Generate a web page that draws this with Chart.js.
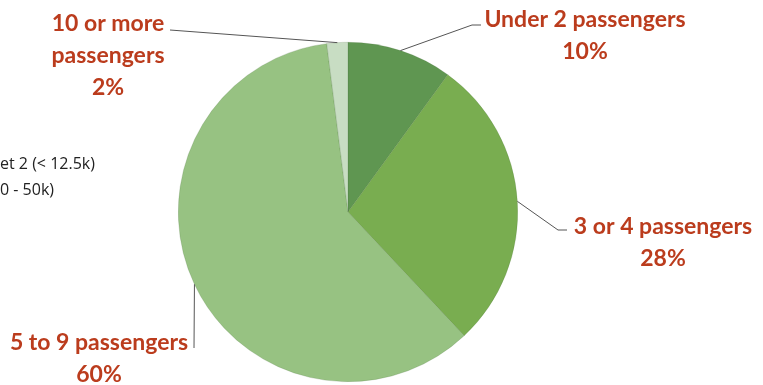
<!DOCTYPE html>
<html>
<head>
<meta charset="utf-8">
<script src="https://cdn.jsdelivr.net/npm/chart.js@4.4.1/dist/chart.umd.min.js"></script>
<style>
  html, body { margin: 0; padding: 0; background: #fff; }
  #wrap { width: 763px; height: 385px; }
</style>
</head>
<body>
<div id="wrap"><canvas id="myChart" width="763" height="385"></canvas></div>
<script>
const groups = ["Under 2 passengers", "3 or 4 passengers", "5 to 9 passengers", "10 or more passengers"];
const shares = [10, 28, 60, 2];
const sliceColors = ["#5f9651", "#79ad50", "#97c282", "#c8ddc3"];

// where each callout sits, relative to the pie centre (label lines, leader elbow)
const callouts = [
  { lines: ["Under 2 passengers", "10%"], x: 237, y: -185, elbow: [124, -187], end: [133, -187] },
  { lines: ["3 or 4 passengers", "28%"], x: 315, y: 22, elbow: [210, 18], end: [219, 18] },
  { lines: ["5 to 9 passengers", "60%"], x: -249, y: 138, elbow: [-154, 136], end: [-154, 136] },
  { lines: ["10 or more", "passengers", "2%"], x: -240, y: -181, elbow: [-178, -182], end: [-178, -182] },
];
const legendBits = ["et 2 (< 12.5k)", "0 - 50k)"];

const calloutPlugin = {
  id: "callouts",
  afterDatasetsDraw(chart) {
    const ctx = chart.ctx;
    const arcs = chart.getDatasetMeta(0).data;
    ctx.save();

    // leftover legend text on the left edge
    ctx.fillStyle = "#222";
    ctx.font = "16px 'Open Sans', sans-serif";
    ctx.textAlign = "left";
    ctx.textBaseline = "alphabetic";
    ctx.fillText(legendBits[0], 0, 169);
    ctx.fillText(legendBits[1], 0, 195);

    arcs.forEach(function(arc, i) {
      const c = callouts[i];
      const cx = arc.x, cy = arc.y;
      const mid = (arc.startAngle + arc.endAngle) / 2;
      const r = arc.outerRadius;
      const sx = cx + Math.cos(mid) * r;
      const sy = cy + Math.sin(mid) * r;

      ctx.strokeStyle = "#555";
      ctx.lineWidth = 1;
      ctx.beginPath();
      ctx.moveTo(sx, sy);
      ctx.lineTo(cx + c.elbow[0], cy + c.elbow[1]);
      ctx.lineTo(cx + c.end[0], cy + c.end[1]);
      ctx.stroke();

      ctx.fillStyle = "#bb3c1d";
      ctx.font = "bold 23px Lato, sans-serif";
      ctx.textAlign = "center";
      c.lines.forEach(function(t, k) {
        ctx.fillText(t, cx + c.x, cy + c.y + k * 32);
      });
    });
    ctx.restore();
  },
};

const ctx = document.getElementById("myChart");
const myChart = new Chart(ctx, {
  type: "pie",
  data: {
    labels: groups,
    datasets: [
      {
        data: shares,
        backgroundColor: sliceColors,
        borderColor: "rgba(70, 110, 60, 0.35)",
        borderWidth: 0.6,
      },
    ],
  },
  options: {
    responsive: false,
    animation: false,
    layout: { padding: { top: 42, bottom: 3, left: 178, right: 245 } },
    plugins: {
      legend: { display: false },
      tooltip: { enabled: false },
    },
  },
  plugins: [calloutPlugin],
});
</script>
</body>
</html>
